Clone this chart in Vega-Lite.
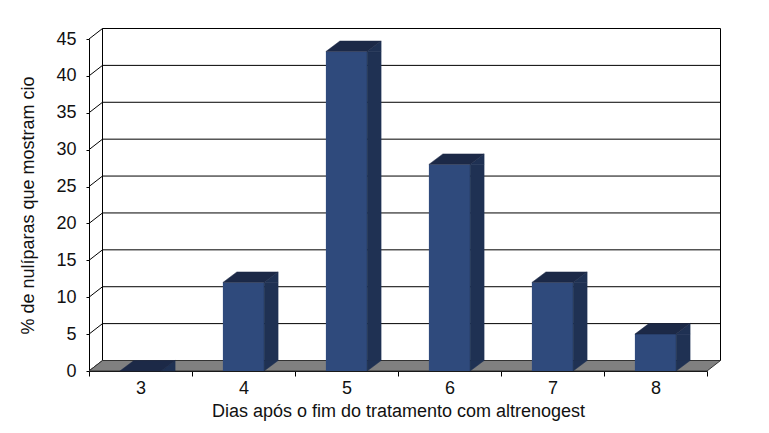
{
  "$schema": "https://vega.github.io/schema/vega-lite/v6.json",
  "width": 618,
  "height": 332,
  "autosize": {"type": "none"},
  "padding": {"left": 89, "top": 39, "right": 62, "bottom": 62},
  "background": "white",
  "config": {
    "view": {"stroke": null},
    "font": "Liberation Sans",
    "axis": {
      "grid": false,
      "domainColor": "#000",
      "tickColor": "#000",
      "labelFont": "Liberation Sans",
      "titleFont": "Liberation Sans",
      "labelFontSize": 18,
      "titleFontSize": 18,
      "titleFontWeight": "normal",
      "labelColor": "#111",
      "titleColor": "#111"
    }
  },
  "datasets": {
    "bars": [
      {"dia": "3", "pct": 0},
      {"dia": "4", "pct": 12},
      {"dia": "5", "pct": 43.3},
      {"dia": "6", "pct": 28},
      {"dia": "7", "pct": 12},
      {"dia": "8", "pct": 5}
    ],
    "grid": [
      {"v": 0}, {"v": 5}, {"v": 10}, {"v": 15}, {"v": 20},
      {"v": 25}, {"v": 30}, {"v": 35}, {"v": 40}, {"v": 45}
    ]
  },
  "resolve": {"scale": {"x": "independent"}},
  "layer": [
    {
      "data": {"name": "grid"},
      "mark": {"type": "rule", "color": "#000", "strokeWidth": 1, "xOffset": 13.5, "x2Offset": 13.5, "yOffset": -10.5, "y2Offset": -10.5},
      "encoding": {
        "x": {"datum": 0, "type": "quantitative", "scale": {"domain": [0, 1], "nice": false, "zero": false}, "axis": null},
        "x2": {"datum": 1},
        "y": {
          "field": "v", "type": "quantitative",
          "scale": {"domain": [0, 45], "nice": false},
          "title": "% de nulíparas que mostram cio",
          "axis": {"tickCount": 10, "tickSize": 3, "labelPadding": 10, "titlePadding": 18}
        },
        "y2": {"field": "v"}
      }
    },
    {
      "data": {"name": "grid"},
      "mark": {"type": "rule", "color": "#000", "strokeWidth": 1, "x2Offset": 13.5, "y2Offset": -10.5},
      "encoding": {
        "x": {"datum": 0, "type": "quantitative", "scale": {"domain": [0, 1], "nice": false, "zero": false}, "axis": null},
        "x2": {"datum": 0},
        "y": {"field": "v", "type": "quantitative", "title": "% de nulíparas que mostram cio"},
        "y2": {"field": "v"}
      }
    },
    {
      "data": {"values": [{"e": 0}, {"e": 1}]},
      "mark": {"type": "rule", "color": "#000", "strokeWidth": 1, "xOffset": 13.5, "x2Offset": 13.5, "yOffset": -10.5, "y2Offset": -10.5},
      "encoding": {
        "x": {"field": "e", "type": "quantitative", "scale": {"domain": [0, 1], "nice": false, "zero": false}, "axis": null},
        "x2": {"field": "e"},
        "y": {"datum": 0, "type": "quantitative", "title": "% de nulíparas que mostram cio"},
        "y2": {"datum": 45}
      }
    },
    {
      "data": {"values": [{}]},
      "mark": {
        "type": "point", "filled": true, "opacity": 1, "size": 4,
        "shape": "M 0 0 L 618 0 L 631.5 -10.5 L 13.5 -10.5 Z",
        "fill": "#808080", "stroke": "#333", "strokeWidth": 1
      },
      "encoding": {
        "x": {"datum": 0, "type": "quantitative", "scale": {"domain": [0, 1], "nice": false, "zero": false}, "axis": null},
        "y": {"datum": 0, "type": "quantitative", "title": "% de nulíparas que mostram cio"}
      }
    },
    {
      "data": {"name": "bars"},
      "mark": {"type": "bar", "width": {"band": 0.4}, "fill": "#2F4A7C"},
      "encoding": {
        "x": {
          "field": "dia", "type": "ordinal",
          "scale": {"domain": ["3", "4", "5", "6", "7", "8"], "paddingInner": 0, "paddingOuter": 0},
          "title": "Dias após o fim do tratamento com altrenogest",
          "axis": {"tickBand": "extent", "tickSize": 5, "labelPadding": 3, "labelAngle": 0, "titlePadding": 5}
        },
        "y": {"field": "pct", "type": "quantitative", "title": "% de nulíparas que mostram cio"},
        "y2": {"datum": 0}
      }
    },
    {
      "data": {"name": "bars"},
      "transform": [{"filter": "datum.pct > 0"}],
      "mark": {"type": "bar", "width": 14, "xOffset": 27.6, "y2Offset": -10.5, "fill": "#1F3153", "stroke": "#1F3153", "strokeWidth": 0.5},
      "encoding": {
        "x": {"field": "dia", "type": "ordinal", "scale": {"domain": ["3", "4", "5", "6", "7", "8"], "paddingInner": 0, "paddingOuter": 0}, "axis": null},
        "y": {"field": "pct", "type": "quantitative", "title": "% de nulíparas que mostram cio"},
        "y2": {"datum": 0}
      }
    },
    {
      "data": {"name": "bars"},
      "transform": [{"filter": "datum.pct > 0"}],
      "mark": {
        "type": "point", "filled": true, "opacity": 1, "size": 4,
        "shape": "M 20.6 -10.5 L 20.6 0 L 34.6 -10.5 Z",
        "fill": "#1F3153", "stroke": "#1F3153", "strokeWidth": 0.5
      },
      "encoding": {
        "x": {"field": "dia", "type": "ordinal", "scale": {"domain": ["3", "4", "5", "6", "7", "8"], "paddingInner": 0, "paddingOuter": 0}, "axis": null},
        "y": {"datum": 0, "type": "quantitative", "title": "% de nulíparas que mostram cio"}
      }
    },
    {
      "data": {"name": "bars"},
      "mark": {
        "type": "point", "filled": true, "opacity": 1, "size": 4,
        "shape": "M 20.6 0 L 34.6 -10.5 L 34.6 0 Z",
        "fill": "#1F3153", "stroke": "#1F3153", "strokeWidth": 0.5
      },
      "encoding": {
        "x": {"field": "dia", "type": "ordinal", "scale": {"domain": ["3", "4", "5", "6", "7", "8"], "paddingInner": 0, "paddingOuter": 0}, "axis": null},
        "y": {"field": "pct", "type": "quantitative", "title": "% de nulíparas que mostram cio"}
      }
    },
    {
      "data": {"name": "bars"},
      "mark": {
        "type": "point", "filled": true, "opacity": 1, "size": 4,
        "shape": "M -20.6 0 L 20.6 0 L 34.6 -10.5 L -6.6 -10.5 Z",
        "fill": "#1C2947", "stroke": "#1C2947", "strokeWidth": 0.5
      },
      "encoding": {
        "x": {"field": "dia", "type": "ordinal", "scale": {"domain": ["3", "4", "5", "6", "7", "8"], "paddingInner": 0, "paddingOuter": 0}, "axis": null},
        "y": {"field": "pct", "type": "quantitative", "title": "% de nulíparas que mostram cio"}
      }
    }
  ]
}
